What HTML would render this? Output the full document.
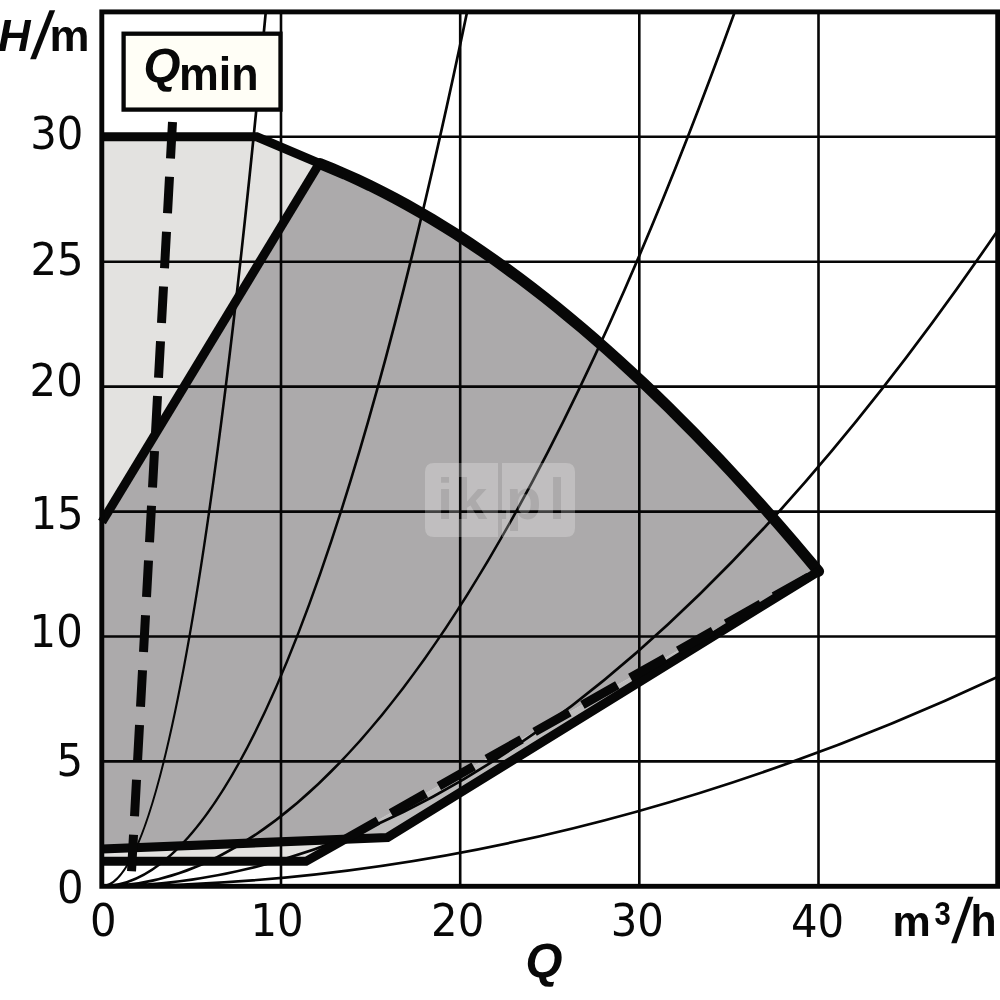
<!DOCTYPE html>
<html><head><meta charset="utf-8"><title>Qmin H/m Q m3/h</title>
<style>html,body{margin:0;padding:0;background:#fff}svg{display:block}text{font-family:"Liberation Sans",sans-serif;fill:#080808}</style></head>
<body>
<svg width="1000" height="1000" viewBox="0 0 1000 1000">
<rect width="1000" height="1000" fill="#fff"/>
<defs><clipPath id="plot"><rect x="101.8" y="11.9" width="895.9000000000001" height="874.4"/></clipPath></defs>
<path d="M102.0,136.8 L256.8,136.8 L320.0,163.6 L102.0,522.0Z" fill="#e3e2e0"/>
<path d="M102.0,849.0 L345.6,838.6 L306.0,861.3 L102.0,861.3Z" fill="#e3e2e0"/>
<path d="M345.6,838.6 L387.5,837.5 L818.5,571.3Z" fill="#bdbcbc"/>
<path d="M102.0,522.0 L320.0,163.6 L332.5,168.7 L344.9,174.0 L357.4,179.7 L369.9,185.6 L382.3,191.8 L394.8,198.3 L407.2,205.0 L419.7,212.1 L432.2,219.4 L444.6,227.0 L457.1,234.8 L469.6,243.0 L482.0,251.3 L494.5,260.0 L506.9,268.9 L519.4,278.1 L531.9,287.5 L544.3,297.2 L556.8,307.2 L569.2,317.4 L581.7,327.8 L594.2,338.5 L606.6,349.4 L619.1,360.6 L631.6,372.1 L644.0,383.7 L656.5,395.6 L669.0,407.8 L681.4,420.2 L693.9,432.8 L706.3,445.6 L718.8,458.7 L731.3,472.0 L743.7,485.5 L756.2,499.3 L768.7,513.2 L781.1,527.4 L793.6,541.8 L806.0,556.5 L818.5,571.3 L345.6,838.6 L102.0,849.0Z" fill="#acaaab"/>
<path d="M281.0,11.9V886.3M460.2,11.9V886.3M639.3,11.9V886.3M818.5,11.9V886.3M101.8,761.4H997.7M101.8,636.5H997.7M101.8,511.6H997.7M101.8,386.6H997.7M101.8,261.7H997.7M101.8,136.8H997.7" stroke="#060606" stroke-width="2.6" fill="none"/>
<path d="M101.8,886.3Q186.1,886.3 270.4,-38.1M101.8,886.3Q289.6,886.3 477.4,-38.1M101.8,886.3Q427.2,886.3 752.6,-38.1M101.8,886.3Q567.7,886.3 1033.5,177.0M101.8,886.3Q567.7,886.3 1033.5,659.7" stroke="#060606" stroke-width="2.7" fill="none" clip-path="url(#plot)"/>
<path d="M102.0,136.8 L256.8,136.8 L320.0,163.6" stroke="#070707" fill="none" stroke-width="9" stroke-linejoin="miter"/>
<path d="M320.0,163.6 L332.5,168.7 L344.9,174.0 L357.4,179.7 L369.9,185.6 L382.3,191.8 L394.8,198.3 L407.2,205.0 L419.7,212.1 L432.2,219.4 L444.6,227.0 L457.1,234.8 L469.6,243.0 L482.0,251.3 L494.5,260.0 L506.9,268.9 L519.4,278.1 L531.9,287.5 L544.3,297.2 L556.8,307.2 L569.2,317.4 L581.7,327.8 L594.2,338.5 L606.6,349.4 L619.1,360.6 L631.6,372.1 L644.0,383.7 L656.5,395.6 L669.0,407.8 L681.4,420.2 L693.9,432.8 L706.3,445.6 L718.8,458.7 L731.3,472.0 L743.7,485.5 L756.2,499.3 L768.7,513.2 L781.1,527.4 L793.6,541.8 L806.0,556.5 L818.5,571.3" stroke="#070707" fill="none" stroke-width="11.2" stroke-linecap="round"/>
<path d="M102.0,522.0 L317.5,166.5" stroke="#070707" fill="none" stroke-width="9"/>
<path d="M102.0,849.0 L387.5,837.5 L818.5,571.3" stroke="#070707" fill="none" stroke-width="9.2" stroke-linejoin="miter"/>
<path d="M102.0,861.3 L306.0,861.3 L378.0,820.6" stroke="#070707" fill="none" stroke-width="9" stroke-linejoin="miter"/>
<path d="M391.0,813.2 L818.5,571.3" stroke="#070707" fill="none" stroke-width="9" stroke-dasharray="40 15"/>
<path d="M172.5,122 L131.5,871.5" stroke="#070707" fill="none" stroke-width="9" stroke-dasharray="36.6 18.3"/>
<rect x="101.8" y="11.9" width="895.9000000000001" height="874.4" fill="none" stroke="#060606" stroke-width="4.9"/>
<rect x="123.6" y="33.7" width="156.9" height="75.9" fill="#fffef6" stroke="#060606" stroke-width="4.3"/>
<text id="t_y30" transform="translate(30.20,149.20) scale(0.925,1)" font-size="45.2"  style="font-family:'DejaVu Sans','Liberation Sans',sans-serif;">30</text>
<text id="t_y25" transform="translate(30.40,275.00) scale(0.925,1)" font-size="45.2"  style="font-family:'DejaVu Sans','Liberation Sans',sans-serif;">25</text>
<text id="t_y20" transform="translate(29.60,396.20) scale(0.925,1)" font-size="45.2"  style="font-family:'DejaVu Sans','Liberation Sans',sans-serif;">20</text>
<text id="t_y15" transform="translate(30.40,529.00) scale(0.925,1)" font-size="45.2"  style="font-family:'DejaVu Sans','Liberation Sans',sans-serif;">15</text>
<text id="t_y10" transform="translate(29.60,647.10) scale(0.925,1)" font-size="45.2"  style="font-family:'DejaVu Sans','Liberation Sans',sans-serif;">10</text>
<text id="t_y5" transform="translate(56.40,776.30) scale(0.925,1)" font-size="45.2"  style="font-family:'DejaVu Sans','Liberation Sans',sans-serif;">5</text>
<text id="t_y0" transform="translate(56.90,903.40) scale(0.925,1)" font-size="45.2"  style="font-family:'DejaVu Sans','Liberation Sans',sans-serif;">0</text>
<text id="t_x0" transform="translate(89.90,936.20) scale(0.925,1)" font-size="45.2"  style="font-family:'DejaVu Sans','Liberation Sans',sans-serif;">0</text>
<text id="t_x10" transform="translate(250.38,935.80) scale(0.925,1)" font-size="45.2"  style="font-family:'DejaVu Sans','Liberation Sans',sans-serif;">10</text>
<text id="t_x20" transform="translate(431.06,935.80) scale(0.925,1)" font-size="45.2"  style="font-family:'DejaVu Sans','Liberation Sans',sans-serif;">20</text>
<text id="t_x30" transform="translate(610.74,935.80) scale(0.925,1)" font-size="45.2"  style="font-family:'DejaVu Sans','Liberation Sans',sans-serif;">30</text>
<text id="t_x40" transform="translate(791.02,936.80) scale(0.925,1)" font-size="45.2"  style="font-family:'DejaVu Sans','Liberation Sans',sans-serif;">40</text>
<text id="t_H" transform="translate(-2.00,51.00)" font-size="45" font-weight="bold" font-style="italic">H</text>
<text id="t_Hs" transform="translate(30.00,57.50) skewX(-14) scale(0.75,1)" font-size="66" font-weight="bold">/</text>
<text id="t_Hm" transform="translate(49.50,51.00)" font-size="45" font-weight="bold">m</text>
<text id="t_um" transform="translate(892.50,935.70)" font-size="43" font-weight="bold">m</text>
<text id="t_u3" transform="translate(934.50,924.60) scale(0.9,1)" font-size="32.5" font-weight="bold">3</text>
<text id="t_us" transform="translate(951.00,942.00) skewX(-12.5) scale(0.74,1)" font-size="62.5" font-weight="bold">/</text>
<text id="t_uh" transform="translate(970.50,935.70) scale(0.95,1)" font-size="45" font-weight="bold">h</text>
<text id="t_Qb" transform="translate(525.50,977.00)" font-size="47.5" font-weight="bold" font-style="italic">Q</text>
<text id="t_boxQ" transform="translate(143.50,82.00)" font-size="47.5" font-weight="bold" font-style="italic">Q</text>
<text id="t_min" transform="translate(179.00,90.00) scale(0.985,1)" font-size="45.5" font-weight="bold">min</text>
<mask id="wm" maskUnits="userSpaceOnUse" x="420" y="455" width="160" height="90"><rect x="420" y="455" width="160" height="90" fill="#fff"/><text id="t_wm" x="437 455 494 506 549" y="519" font-size="58" font-weight="bold" style="fill:#000">ik.pl</text></mask>
<g mask="url(#wm)" fill="#fff" fill-opacity="0.24"><path d="M434,463H498V537H434Q425,537 425,528V472Q425,463 434,463Z"/><path d="M502,463H566Q575,463 575,472V528Q575,537 566,537H502Z"/></g>
</svg></body></html>
